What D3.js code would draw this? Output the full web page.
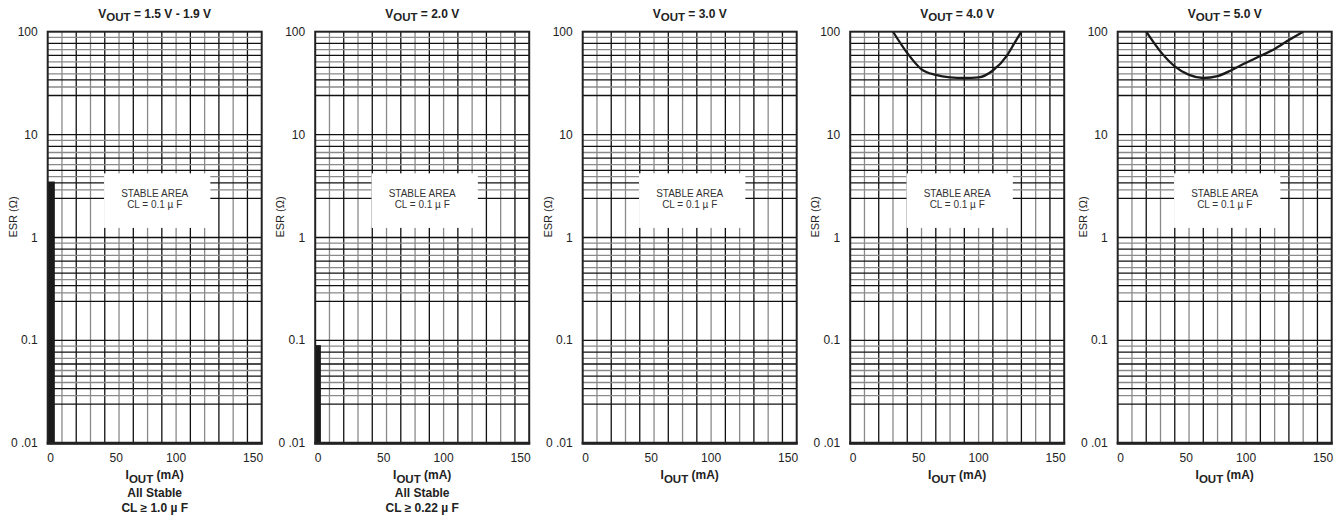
<!DOCTYPE html>
<html><head><meta charset="utf-8">
<script src="https://cdn.jsdelivr.net/npm/d3@7"></script>
<style>body{margin:0;background:#fff}svg{display:block;font-family:"Liberation Sans",Arial,sans-serif}</style>
</head><body><svg id="c" width="1341" height="522"></svg>
<script>
// ---- data ----
const voutLabels = ["1.5 V - 1.9 V", "2.0 V", "3.0 V", "4.0 V", "5.0 V"];
const yTickValues = [100, 10, 1, 0.1, 0.01];
const yTickLabels = ["100", "10", "1", "0.1", "0 .01"];
const xTickLabels = ["0", "50", "100", "150"];
const xTickAt = [2, 48, 90, 144];          // where the labels sit on the current axis (mA)
const xGridValues = [10,20,30,40,50,60,70,80,90,100,110,120,130,140];
const decades = [0.01, 0.1, 1, 10];
const gridMultipliers = [8.8, 7.7, 6.7, 5.9, 5.1, 4.5, 3.9, 3.4, 2.9, 2.4]; // minor ESR grid lines per decade, as drawn
// unstable low-current region (bar) per panel: [I max (mA), ESR max (ohm)]
const barIout = [5, 4, null, null, 0.15];
const barEsr = [3.5, 0.09, null, null, 0.5];
// stability boundary curves
const curve4Iout = [30, 40, 50, 60, 70, 80, 90, 100, 110, 115, 120];
const curve4Esr  = [100, 62, 43, 38, 36, 35.5, 36, 42, 59, 77, 100];
const curve5Iout = [20, 30, 40, 50, 60, 70, 80, 90, 100, 110, 120, 130];
const curve5Esr  = [100, 64, 46, 38, 35.5, 37, 42.5, 50, 58, 68, 83, 100];
const curves = [null, null, null, [curve4Iout, curve4Esr], [curve5Iout, curve5Esr]];
const notes = [["All Stable", "CL ≥ 1.0 µ F"], ["All Stable", "CL ≥ 0.22 µ F"], null, null, null];
const stableBoxI = [39.5, 114];
const stableBoxEsr = [1.24, 4.2];

// ---- layout ----
const svg = d3.select("#c");
const pw = 214, plotTop = 31.7, plotBottom = 443.3, step = 267.5, left0 = 47.7;
const y = d3.scaleLog().domain([0.01, 100]).range([plotBottom, plotTop]);
const yGrid = [];
decades.forEach(d => gridMultipliers.forEach((m, k) => yGrid.push({v: d * m, odd: k % 2 === 0})));
[0.1, 1, 10].forEach(v => yGrid.push({v, odd: false}));

voutLabels.forEach((lab, i) => {
  const x0 = left0 + i * step;
  const x = d3.scaleLinear().domain([0, 150]).range([x0, x0 + pw]);
  const g = svg.append("g");
  const cx = x0 + pw / 2;

  // grid
  g.selectAll(".vg").data(xGridValues).join("line")
    .attr("x1", d => x(d)).attr("x2", d => x(d)).attr("y1", plotTop).attr("y2", plotBottom)
    .attr("stroke", (d, k) => k % 2 === 0 ? "#8a8a8a" : "#111").attr("stroke-width", 1.3);
  g.selectAll(".hg").data(yGrid).join("line")
    .attr("x1", x0).attr("x2", x0 + pw).attr("y1", d => y(d.v)).attr("y2", d => y(d.v))
    .attr("stroke", d => d.odd ? "#8a8a8a" : "#111").attr("stroke-width", 1.3);

  // stable area box
  g.append("rect").attr("x", x(stableBoxI[0])).attr("width", x(stableBoxI[1]) - x(stableBoxI[0]))
    .attr("y", y(stableBoxEsr[1])).attr("height", y(stableBoxEsr[0]) - y(stableBoxEsr[1])).attr("fill", "#fff");
  g.append("text").attr("x", cx).attr("y", 197).attr("text-anchor", "middle").attr("font-size", 10).attr("fill", "#333").text("STABLE AREA");
  g.append("text").attr("x", cx).attr("y", 208).attr("text-anchor", "middle").attr("font-size", 10).attr("fill", "#333").text("CL = 0.1 µ F");

  // bar
  if (barIout[i] != null) {
    g.append("rect").attr("x", x(0)).attr("width", x(barIout[i]) - x(0))
      .attr("y", y(barEsr[i])).attr("height", plotBottom - y(barEsr[i])).attr("fill", "#1a1a1a");
  }
  // curve
  if (curves[i]) {
    const pts = curves[i][0].map((v, k) => [x(v), y(curves[i][1][k])]);
    g.append("path").attr("d", d3.line().curve(d3.curveMonotoneX)(pts))
      .attr("fill", "none").attr("stroke", "#1a1a1a").attr("stroke-width", 2.3);
  }
  // frame
  g.append("rect").attr("x", x0).attr("y", plotTop).attr("width", pw).attr("height", plotBottom - plotTop)
    .attr("fill", "none").attr("stroke", "#222").attr("stroke-width", 2);
  g.append("line").attr("x1", x0 - 1).attr("x2", x0 + pw + 1).attr("y1", plotBottom).attr("y2", plotBottom)
    .attr("stroke", "#222").attr("stroke-width", 3);

  // y tick labels
  g.selectAll(".yl").data(yTickValues).join("text")
    .attr("x", x0 - 10).attr("y", d => y(d) + 4).attr("text-anchor", "end")
    .attr("font-size", 12).attr("fill", "#222").text((d, k) => yTickLabels[k]);
  // x tick labels
  g.selectAll(".xl").data(xTickAt).join("text")
    .attr("x", d => x(d)).attr("y", 462).attr("text-anchor", "middle")
    .attr("font-size", 12).attr("fill", "#222").text((d, k) => xTickLabels[k]);
  // ESR label
  g.append("text").attr("transform", `translate(${x0 - 31},217) rotate(-90)`).attr("text-anchor", "middle")
    .attr("font-size", 11).attr("fill", "#222").text("ESR (Ω)");
  // title
  const t = g.append("text").attr("x", cx).attr("y", 18).attr("text-anchor", "middle")
    .attr("font-size", 12).attr("font-weight", "bold").attr("fill", "#222");
  t.append("tspan").text("V");
  t.append("tspan").attr("dy", 3).attr("font-size", 11.5).text("OUT");
  t.append("tspan").attr("dy", -3).text(" = " + lab);
  // x title
  const xt = g.append("text").attr("x", cx).attr("y", 479).attr("text-anchor", "middle")
    .attr("font-size", 12).attr("font-weight", "bold").attr("fill", "#222");
  xt.append("tspan").text("I");
  xt.append("tspan").attr("dy", 3.5).attr("font-size", 11.5).text("OUT");
  xt.append("tspan").attr("dy", -3.5).text(" (mA)");
  // notes
  if (notes[i]) {
    g.append("text").attr("x", cx).attr("y", 497).attr("text-anchor", "middle").attr("font-size", 12)
      .attr("font-weight", "bold").attr("fill", "#222").text(notes[i][0]);
    g.append("text").attr("x", cx).attr("y", 512).attr("text-anchor", "middle").attr("font-size", 12)
      .attr("font-weight", "bold").attr("fill", "#222").text(notes[i][1]);
  }
});
</script></body></html>
